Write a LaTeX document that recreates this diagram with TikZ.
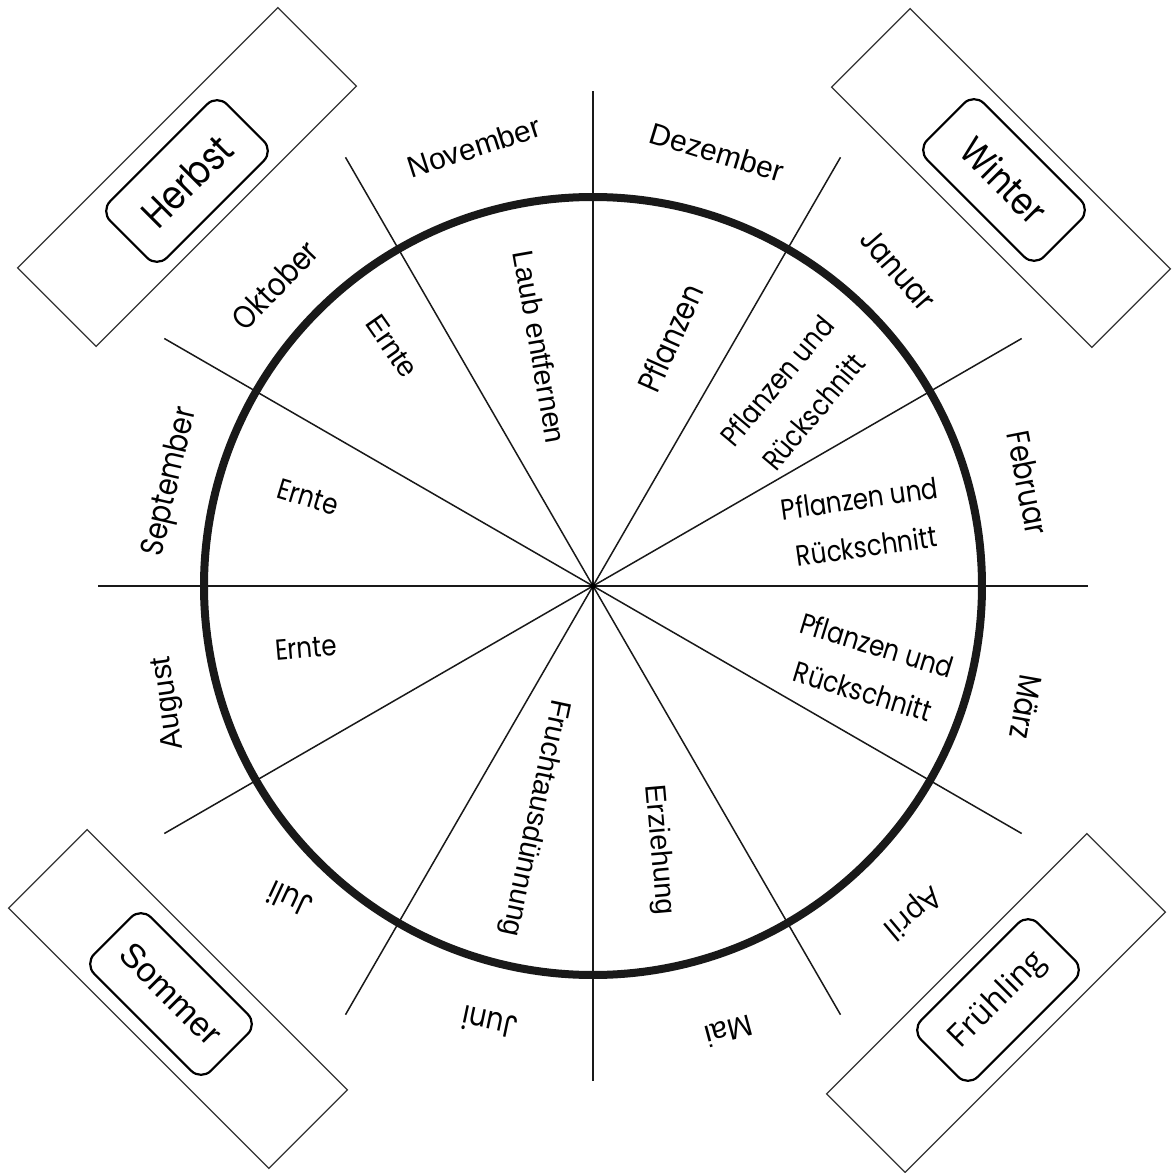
\documentclass[tikz,border=0pt]{standalone}
\usepackage{fontspec}
\setmainfont{Liberation Sans}
\newfontfamily\school{Poppins}
\newfontfamily\opens{Open Sans}
\begin{document}
\begin{tikzpicture}[x=1pt,y=1pt,
  arialm/.style={font=\fontsize{30}{36}\selectfont, inner sep=0pt},
  schoolm/.style={font=\school\fontsize{32}{38}\selectfont, xscale=0.85, inner sep=0pt},
  task/.style={font=\fontsize{29}{35}\selectfont, inner sep=0pt},
  schooltask/.style={font=\school\fontsize{29}{48}\selectfont, xscale=0.85, align=center, inner sep=0pt},
  seasonbox/.style={draw=black!80, line width=1.3pt, minimum width=368pt, minimum height=111pt, inner sep=0pt},
  seasonlabel/.style={draw=black, line width=2.2pt, rounded corners=14pt, minimum width=165pt, minimum height=80pt, inner sep=0pt},
  spoke/.style={draw=black!90, line width=1.5pt},
  wheel/.style={draw=black!90, line width=8pt}]
\useasboundingbox (-593,-587) rectangle (578,586);
\fill[white] (-593,-587) rectangle (578,586);
\coordinate (c) at (0,0);
% spokes
\foreach \a [count=\i] in {0,30,...,330} {
  \coordinate (s\i) at (\a:495);
  \draw[spoke] (c) -- (s\i);
}
\draw[wheel] (c) circle[radius=389];
\fill[black] (c) circle[radius=3];
% month labels
\node[rotate=18, arialm]   (nov) at (-119,439) {November};
\node[rotate=-17, arialm]  (dez) at (124,434) {Dezember};
\node[rotate=-49, schoolm] (jan) at (305,316) {Januar};
\node[rotate=-79, schoolm] (feb) at (435,103) {Februar};
\node[rotate=-100, schoolm] (mar) at (433,-121) {März};
\node[rotate=-140, font=\opens\fontsize{30}{36}\selectfont, inner sep=0pt] (apr) at (319,-326) {April};
\node[rotate=-165, arialm] (mai) at (136,-445) {Mai};
\node[rotate=168, schoolm] (jun) at (-103,-437) {Juni};
\node[rotate=155, schoolm] (jul) at (-303,-314) {Juli};
\node[rotate=98, arialm]   (aug) at (-424,-117) {August};
\node[rotate=77, schoolm]  (sep) at (-422,104) {September};
\node[rotate=46, schoolm]  (okt) at (-318,301) {Oktober};
% tasks
\node[rotate=-80, task] (laub) at (-53,239) {Laub entfernen};
\node[rotate=-55, task] (ernteokt) at (-201,240) {Ernte};
\node[rotate=-17, schooltask] (erntesep) at (-285,89) {Ernte};
\node[rotate=5, schooltask] (ernteaug) at (-287,-62) {Ernte};
\node[rotate=-102, task] (frucht) at (-58,-232) {Fruchtausdünnung};
\node[rotate=-85, task] (erz) at (66,-264) {Erziehung};
\node[rotate=-17, schooltask] (pmar) at (277,-82) {Pflanzen und\\Rückschnitt};
\node[rotate=8, schooltask] (pfeb) at (270,64) {Pflanzen und\\Rückschnitt};
\node[rotate=50, schooltask] (pjan) at (202,190) {Pflanzen und\\Rückschnitt};
\node[rotate=66, schooltask, font=\school\fontsize{32}{38}\selectfont] (pdez) at (77,248) {Pflanzen};
% seasons
\node[rotate=45, seasonbox]  (herbstbox) at (-406,409) {};
\node[rotate=45, seasonlabel, font=\school\fontsize{40}{48}\selectfont] (herbst) at (-406,405) {\scalebox{0.85}[1]{Herbst}};
\node[rotate=-45, seasonbox] (winterbox) at (408,408) {};
\node[rotate=-45, seasonlabel, font=\school\fontsize{38}{46}\selectfont] (winter) at (411,406) {\scalebox{0.85}[1]{Winter}};
\node[rotate=-45, seasonbox] (sommerbox) at (-415,-413) {};
\node[rotate=-45, seasonlabel, font=\fontsize{34}{40}\selectfont] (sommer) at (-422,-408) {Sommer};
\node[rotate=45, seasonbox]  (fruehbox) at (403,-417) {};
\node[rotate=45, seasonlabel, font=\opens\fontsize{32}{38}\selectfont] (frueh) at (405,-414) {Frühling};
\end{tikzpicture}
\end{document}
